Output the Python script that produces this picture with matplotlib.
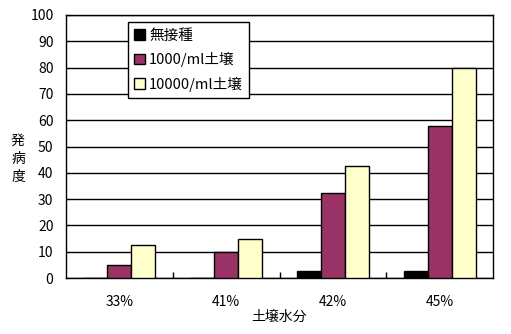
import matplotlib
matplotlib.use('Agg')
import matplotlib.pyplot as plt
import numpy as np

plt.rcParams['font.family'] = ['Noto Sans CJK JP', 'DejaVu Sans']

categories = ['33%', '41%', '42%', '45%']
series_names = ['無接種', '1000/ml土壌', '10000/ml土壌']
no_inoc = [0, 0, 2.5, 2.5]
inoc_1000 = [5, 10, 32.3, 57.7]
inoc_10000 = [12.5, 15, 42.5, 80]
colors = ['#000000', '#993366', '#FFFFCC']

fig = plt.figure(figsize=(5.11, 3.34), dpi=100)
ax = fig.add_axes([66 / 511, 56 / 334, 427 / 511, 263 / 334])

x = np.arange(len(categories))
w = 0.225
for i, (vals, name) in enumerate(zip([no_inoc, inoc_1000, inoc_10000], series_names)):
    ax.bar(x + (i - 1) * w, vals, w, color=colors[i], edgecolor='black', linewidth=1,
           label=name, zorder=3)

ax.set_xlim(-0.5, 3.5)
ax.set_ylim(0, 100)
ax.set_yticks(range(0, 101, 10))
ax.yaxis.grid(True, color='black', linewidth=1, zorder=0)
ax.set_xticks(x)
ax.set_xticklabels(categories, fontsize=10)
ax.tick_params(axis='x', length=0, pad=12)
ax.set_xticks([0.5, 1.5, 2.5], minor=True)
ax.tick_params(axis='x', which='minor', direction='in', length=4, width=1)
ax.tick_params(axis='y', direction='in', length=3, labelsize=10, pad=9)
for s in ax.spines.values():
    s.set_linewidth(1)
    s.set_color('black')

ax.set_xlabel('土壌水分', fontsize=10, labelpad=1)
fig.text(18 / 511, 1 - 159 / 334, '発\n病\n度', fontsize=10, ha='center', va='center',
         linespacing=1.35)

leg = ax.legend(loc='upper left', bbox_to_anchor=(0.145, 0.973), borderaxespad=0,
                fancybox=False, edgecolor='black', framealpha=1, fontsize=10.5,
                handlelength=0.7, handleheight=0.7, handletextpad=0.3,
                labelspacing=0.65, borderpad=0.45)
leg.get_frame().set_linewidth(1)

fig.savefig('out.png', dpi=100)
